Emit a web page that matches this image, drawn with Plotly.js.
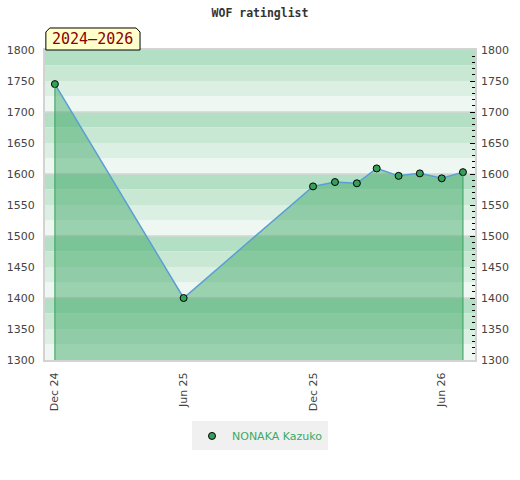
<!DOCTYPE html>
<html>
<head>
<meta charset="utf-8">
<script src="https://cdn.plot.ly/plotly-3.0.1.min.js"></script>
<style>html,body{margin:0;padding:0;background:#fff;}#chart{width:520px;height:480px;}</style>
</head>
<body>
<div id="chart"></div>
<script>
// ---- data ----
const playerName = 'NONAKA Kazuko';
const chartTitle = 'WOF ratinglist';
const periodLabel = '2024\u20132026';
const dates = ['2024-12-01','2025-06-01','2025-12-01','2026-01-01','2026-02-01','2026-03-01','2026-04-01','2026-05-01','2026-06-01','2026-07-01'];
const ratings = [1745, 1400, 1580, 1587, 1585, 1609, 1597, 1601, 1593, 1603];
const xTickVals = ['2024-12-01','2025-06-01','2025-12-01','2026-06-01'];
const xTickText = ['Dec 24','Jun 25','Dec 25','Jun 26'];
const stripeColors = ['#b3dfc4','#c8e8d4','#dcefe3','#eef7f1'];

// ---- layout constants ----
const yMin = 1300, yMax = 1800;
const xRange = ['2024-11-17','2026-07-18'];
const green = '#35a05a';

const shapes = [];
for (let base = yMin; base < yMax; base += 100) {
  for (let i = 0; i < 4; i++) {
    const top = base + 100 - i * 25;
    shapes.push({type:'rect', xref:'paper', yref:'y', x0:0, x1:1, y0:top-25, y1:top,
      fillcolor: stripeColors[i], line:{width:0}, layer:'below'});
  }
  if (base > yMin) {
    shapes.push({type:'line', xref:'paper', yref:'y', x0:0, x1:1, y0:base, y1:base,
      line:{color:'#d6d6d6', width:1.5}, layer:'below'});
  }
}
// label box with cut corners (paper coords)
const bx0 = 0.002, bx1 = 0.221, by0 = 1.0, by1 = 1.071, cx = 0.009, cy = 0.013;
shapes.push({type:'path', xref:'paper', yref:'paper',
  path:`M ${bx0} ${by0} L ${bx0} ${by1-cy} L ${bx0+cx} ${by1} L ${bx1-cx} ${by1} L ${bx1} ${by1-cy} L ${bx1} ${by0} Z`,
  fillcolor:'#ffffcc', line:{color:'#000', width:1}, layer:'above'});

const traces = [
  {x: dates, y: ratings, type:'scatter', mode:'lines+markers', fill:'tozeroy',
   fillcolor:'rgba(59,166,99,0.47)', line:{color:'#5a9fd4', width:1.5},
   marker:{color:green, size:7, line:{color:'#000', width:1}},
   showlegend:false, hoverinfo:'x+y'},
  {x:[dates[0], dates[0]], y:[yMin, ratings[0]], type:'scatter', mode:'lines',
   line:{color:green, width:1}, showlegend:false, hoverinfo:'skip'},
  {x:[dates[dates.length-1], dates[dates.length-1]], y:[yMin, ratings[ratings.length-1]], type:'scatter', mode:'lines',
   line:{color:green, width:1}, showlegend:false, hoverinfo:'skip'},
  {x:[null], y:[null], type:'scatter', mode:'markers', name: playerName,
   marker:{color:green, size:7, line:{color:'#000', width:1}}},
  {x:[dates[0]], y:[ratings[0]], yaxis:'y2', type:'scatter', mode:'markers',
   marker:{opacity:0}, showlegend:false, hoverinfo:'skip'}
];

const tickFont = {family:'DejaVu Sans, sans-serif', size:11, color:'#444'};

const layout = {
  width:520, height:480,
  margin:{l:45, r:45, t:50, b:120},
  paper_bgcolor:'#fff', plot_bgcolor:'#fff',
  title:{text:'<b>'+chartTitle+'</b>', x:0.5, xanchor:'center', y:0.973, yanchor:'middle',
    font:{family:'DejaVu Sans Mono, monospace', size:11.5, color:'#333'}},
  xaxis:{type:'date', range:xRange, tickvals:xTickVals, ticktext:xTickText, tickangle:-90,
    showgrid:false, zeroline:false, showline:true, linecolor:'#d3d3d3', linewidth:2, mirror:true,
    ticks:'outside', ticklen:6, tickcolor:'rgba(0,0,0,0)', tickfont:tickFont, fixedrange:true},
  yaxis:{range:[yMin,yMax], dtick:50, showgrid:false, zeroline:false, showline:true,
    linecolor:'#d3d3d3', linewidth:2, mirror:true, ticks:'outside', ticklen:6,
    tickcolor:'rgba(0,0,0,0)', tickfont:tickFont, fixedrange:true},
  yaxis2:{range:[yMin,yMax], dtick:50, overlaying:'y', side:'right', showgrid:false, zeroline:false,
    showline:false, ticks:'inside', ticklen:5, tickcolor:'#000', tickwidth:1,
    minor:{dtick:10, ticks:'inside', ticklen:3, tickcolor:'#000', tickwidth:1, showgrid:false},
    ticklabelstandoff:5, tickfont:tickFont, fixedrange:true},
  shapes: shapes,
  annotations:[{text:periodLabel, xref:'paper', yref:'paper', x:(bx0+bx1)/2, y:(by0+by1)/2,
    xanchor:'center', yanchor:'middle', showarrow:false,
    font:{family:'DejaVu Sans Mono, monospace', size:15, color:'#8b0000'}}],
  legend:{orientation:'h', x:0.5, xanchor:'center', y:-0.245, yanchor:'middle', itemwidth:30,
    bgcolor:'#f0f0f0', font:{family:'DejaVu Sans, sans-serif', size:11, color:'#3caa64'}},
  showlegend:true
};

Plotly.newPlot('chart', traces, layout, {displayModeBar:false, staticPlot:true});
</script>
</body>
</html>
